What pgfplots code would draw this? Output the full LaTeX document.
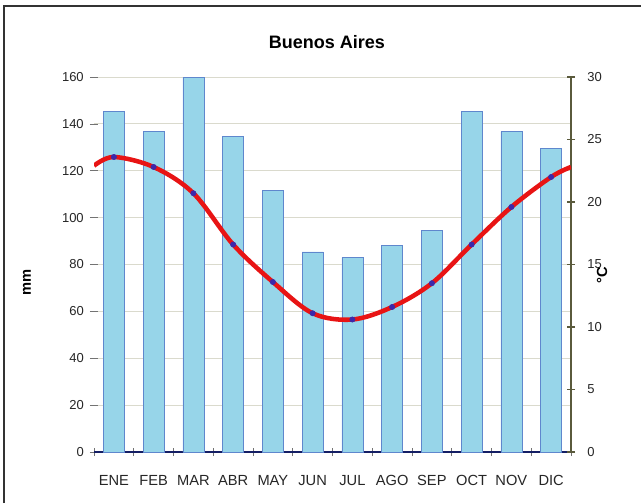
\documentclass[border=0pt]{standalone}
\usepackage{pgfplots}
\pgfplotsset{compat=1.18}
\usepackage{fontspec}
\setmainfont{Liberation Sans}
\definecolor{barfill}{RGB}{151,213,233}
\definecolor{baredge}{RGB}{95,135,205}
\definecolor{navy}{RGB}{20,30,100}
\definecolor{gridc}{RGB}{218,218,205}
\definecolor{olive}{RGB}{90,90,60}
\definecolor{tred}{RGB}{232,20,20}
\definecolor{mpurple}{RGB}{60,40,170}
\begin{document}
\begin{tikzpicture}[x=0.75pt,y=0.75pt]
\path[use as bounding box] (-94,-51) rectangle (547,452);
\fill[white] (-94,-51) rectangle (547,452);
\draw[line width=1.3pt, color=black!80] (-90,-51) -- (-90,446) -- (547,446);
\begin{axis}[
  at={(0,0)}, anchor=south west, scale only axis,
  width=357.75pt, height=281.25pt,
  xmin=-0.5, xmax=11.5, ymin=0, ymax=160,
  axis x line*=bottom, axis y line*=left,
  x axis line style={navy, line width=1.5pt},
  y axis line style={draw=none},
  ytick={0,20,...,160},
  ymajorgrids, grid style={gridc, line width=0.6pt},
  tick align=center,
  major tick length=6pt, minor tick length=6pt,
  major y tick style={black!55, line width=0.5pt},
  major x tick style={draw=none},
  minor x tick style={black!55, line width=0.5pt},
  xtick={0,...,11},
  xticklabels={ENE,FEB,MAR,ABR,MAY,JUN,JUL,AGO,SEP,OCT,NOV,DIC},
  minor xtick={-0.5,0.5,...,11.5},
  xticklabel style={font=\fontsize{11}{13}\selectfont, anchor=base, yshift=-22.1pt, inner sep=0pt, text=black!85},
  yticklabel style={font=\fontsize{9.75}{11}\selectfont, anchor=east, inner sep=0pt, xshift=-4.5pt, text=black!85},
  /pgf/number format/assume math mode=true,
  clip=false,
]
\addplot[ybar, bar width=0.53, fill=barfill, draw=baredge, line width=0.5pt]
  coordinates {(0,145.2) (1,136.7) (2,159.9) (3,134.8) (4,111.5) (5,85.4)
               (6,82.9) (7,88.0) (8,94.7) (9,145.2) (10,136.7) (11,129.6)};
\end{axis}
\begin{axis}[
  at={(0,0)}, anchor=south west, scale only axis,
  width=357.75pt, height=281.25pt,
  xmin=-0.5, xmax=11.5, ymin=0, ymax=30,
  axis x line=none, axis y line*=right,
  y axis line style={olive, line width=1pt},
  ytick={0,5,...,30},
  tick align=center, major tick length=6pt,
  major y tick style={olive, line width=0.8pt},
  yticklabel style={font=\fontsize{9.75}{11}\selectfont, anchor=west, inner sep=0pt, xshift=9pt, text=black!85},
  /pgf/number format/assume math mode=true,
]
\addplot[only marks, mark=*, mark size=2.0pt, color=mpurple]
  coordinates {(0,23.6) (1,22.8) (2,20.7) (3,16.6) (4,13.6) (5,11.1)
               (6,10.6) (7,11.6) (8,13.5) (9,16.6) (10,19.6) (11,22.0)};
\addplot[tred, line width=3.4pt, smooth, tension=0.55]
  coordinates {(-0.5,22.9) (0,23.6) (1,22.8) (2,20.7) (3,16.6) (4,13.6) (5,11.1)
               (6,10.6) (7,11.6) (8,13.5) (9,16.6) (10,19.6) (11,22.0) (11.5,22.8)};
\end{axis}
\node[font=\fontsize{13.5}{16}\selectfont\bfseries] at (233,410) {Buenos Aires};
\node[font=\fontsize{11}{13}\selectfont\bfseries, rotate=90] at (-67,170) {mm};
\node[font=\fontsize{11}{13}\selectfont\bfseries, rotate=90] at (508,177) {°C};
\end{tikzpicture}
\end{document}
